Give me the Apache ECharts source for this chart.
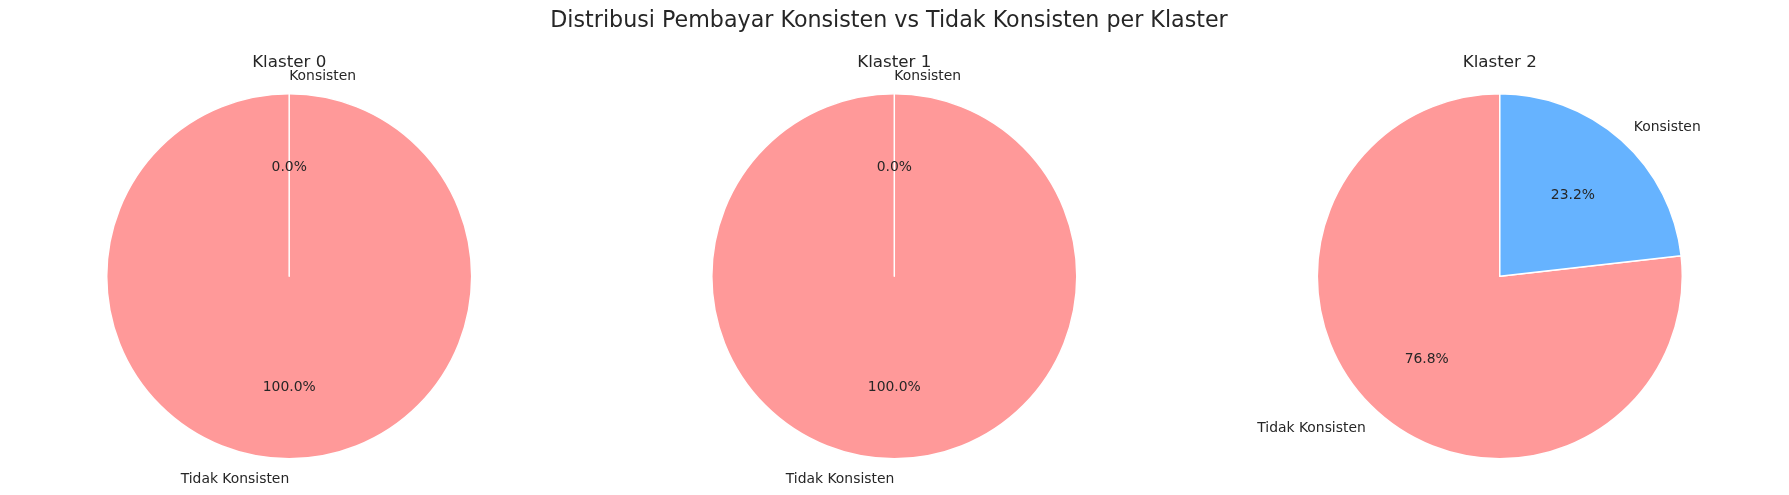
<!DOCTYPE html>
<html>
<head>
<meta charset="utf-8">
<script src="https://cdn.jsdelivr.net/npm/echarts@6/dist/echarts.min.js"></script>
<style>
html,body{margin:0;padding:0;background:#fff;}
#chart{width:1789px;height:495px;}
</style>
</head>
<body>
<div id="chart"></div>
<script>
const mainTitle = 'Distribusi Pembayar Konsisten vs Tidak Konsisten per Klaster';
const categories = ['Tidak Konsisten', 'Konsisten'];
const clusterNames = ['Klaster 0', 'Klaster 1', 'Klaster 2'];
const klaster0 = [100.0, 0.0];
const klaster1 = [100.0, 0.0];
const klaster2 = [76.8, 23.2];
const sliceColors = ['#ff9999', '#66b3ff'];

const clusterValues = [klaster0, klaster1, klaster2];
const centersX = [289.2, 894.3, 1499.8];
const centerY = 276.3;
const R = 182.5;
const FONT = 'DejaVu Sans';
const TXT = '#262626';
const START = 89.999;

const titles = [{
  text: mainTitle,
  left: 889, top: 10, padding: 0, textAlign: 'center',
  textStyle: {fontFamily: FONT, fontSize: 22.2, fontWeight: 'normal', color: TXT}
}];
const series = [];
clusterNames.forEach((name, i) => {
  titles.push({
    text: name, left: centersX[i], top: 54.5, padding: 0, textAlign: 'center',
    textStyle: {fontFamily: FONT, fontSize: 16.7, fontWeight: 'normal', color: TXT}
  });
  const data = categories.map((c, j) => ({
    name: c, value: clusterValues[i][j],
    itemStyle: {color: sliceColors[j]}
  }));
  // wedges with outside category labels at 1.1 R
  series.push({
    type: 'pie',
    center: [centersX[i], centerY],
    radius: [0, R],
    startAngle: START,
    clockwise: false,
    avoidLabelOverlap: false,
    stillShowZeroSum: true,
    minShowLabelAngle: 0,
    animation: false,
    silent: true,
    itemStyle: {borderColor: '#ffffff', borderWidth: 1.5},
    label: {
      show: true, position: 'outside', formatter: '{b}',
      fontFamily: FONT, fontSize: 13.9, color: TXT,
      distanceToLabelLine: 0, offset: [0, 1.5]
    },
    labelLine: {show: false, length: R * 0.1 + 0.5, length2: 0},
    emphasis: {disabled: true},
    data: data
  });
  // transparent overlay carrying percentage labels at 0.6 R
  series.push({
    type: 'pie',
    center: [centersX[i], centerY],
    radius: [0, R * 1.17],
    startAngle: START,
    clockwise: false,
    avoidLabelOverlap: false,
    minShowLabelAngle: 0,
    animation: false,
    silent: true,
    itemStyle: {color: 'rgba(0,0,0,0)', borderWidth: 0},
    label: {
      show: true, position: 'inside',
      formatter: p => p.percent.toFixed(1) + '%',
      fontFamily: FONT, fontSize: 13.9, color: TXT, offset: [0, 1]
    },
    labelLine: {show: false},
    emphasis: {disabled: true},
    data: categories.map((c, j) => ({name: c, value: clusterValues[i][j]}))
  });
});

const chart = echarts.init(document.getElementById('chart'), null, {renderer: 'canvas'});
chart.setOption({
  backgroundColor: '#ffffff',
  animation: false,
  title: titles,
  series: series
});
</script>
</body>
</html>
